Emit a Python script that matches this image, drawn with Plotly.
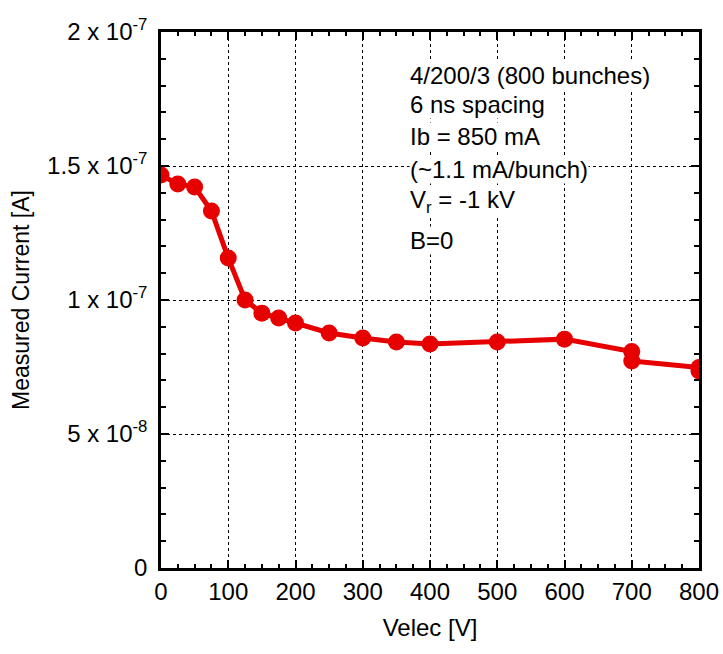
import plotly.graph_objects as go

velec = [0, 25, 50, 75, 100, 125, 150, 175, 200, 250, 300, 350, 400, 500, 600, 700, 700, 800, 800]
current = [1.466e-7, 1.433e-7, 1.422e-7, 1.332e-7, 1.157e-7, 1.0e-7, 0.951e-7, 0.933e-7, 0.914e-7,
           0.877e-7, 0.858e-7, 0.843e-7, 0.836e-7, 0.843e-7, 0.854e-7, 0.808e-7, 0.772e-7, 0.748e-7, 0.735e-7]

x_ticks = [0, 100, 200, 300, 400, 500, 600, 700, 800]
y_ticks = [0, 5e-8, 1e-7, 1.5e-7, 2e-7]
y_ticktext = ["0", "5 x 10<sup>-8</sup>", "1 x 10<sup>-7</sup>", "1.5 x 10<sup>-7</sup>", "2 x 10<sup>-7</sup>"]

note_lines = ["4/200/3 (800 bunches)", "6 ns spacing", "Ib = 850 mA", "(~1.1 mA/bunch)",
              "V<sub>r</sub> = -1 kV", "B=0"]
note_y_px = [75, 104, 136, 169, 201, 240]

FONT = "Liberation Sans, Arial, sans-serif"
RED = "#e60000"

fig = go.Figure()
fig.add_trace(go.Scatter(
    x=velec, y=current, mode="lines+markers",
    line=dict(color=RED, width=5),
    marker=dict(color=RED, size=17, symbol="circle"),
    showlegend=False,
))

W, H = 723, 654
L, R, T, B = 161, 24, 32, 86
ph = H - T - B

for txt, ypx in zip(note_lines, note_y_px):
    fig.add_annotation(
        x=(409 - L) / (W - L - R), y=(H - B - ypx) / ph, xref="paper", yref="paper",
        text=txt, showarrow=False, xanchor="left", yanchor="middle", align="left",
        font=dict(family=FONT, size=24, color="black"), bgcolor="white", borderpad=0,
    )

axis_common = dict(
    showline=True, linecolor="black", linewidth=2.5, mirror="ticks",
    ticks="inside", ticklen=8, tickwidth=1.5, tickcolor="black",
    showgrid=True, gridcolor="black", griddash="dot", gridwidth=1,
    zeroline=False, tickfont=dict(family=FONT, size=24, color="black"),
    automargin=False,
)

fig.update_xaxes(
    range=[0, 800], tickvals=x_ticks, ticktext=[str(v) for v in x_ticks],
    minor=dict(dtick=25, ticks="inside", ticklen=4, tickcolor="black", showgrid=False),
    title=dict(text="Velec [V]", font=dict(family=FONT, size=24, color="black"), standoff=16),
    **axis_common,
)
fig.update_yaxes(
    range=[0, 2e-7], tickvals=y_ticks, ticktext=y_ticktext,
    minor=dict(dtick=1e-8, ticks="inside", ticklen=5, tickcolor="black", showgrid=False),
    title=dict(text="Measured Current [A]", font=dict(family=FONT, size=23, color="black"), standoff=12),
    ticklabelstandoff=6,
    **axis_common,
)

fig.update_layout(
    width=W, height=H,
    margin=dict(l=L, r=R, t=T, b=B),
    plot_bgcolor="white", paper_bgcolor="white",
)

fig.write_html("out.html")
